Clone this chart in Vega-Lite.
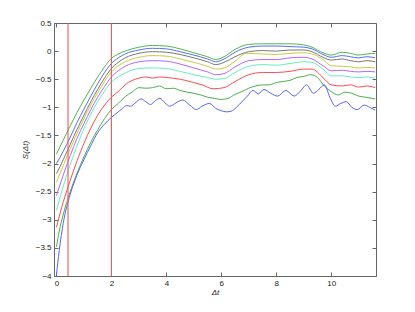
{
  "$schema": "https://vega.github.io/schema/vega-lite/v6.json",
  "width": 322,
  "height": 253,
  "autosize": {"type": "none"},
  "padding": {"left": 54, "top": 23, "right": 39, "bottom": 36},
  "config": {
    "view": {"stroke": null},
    "font": "Liberation Sans",
    "axis": {
      "grid": false,
      "domainColor": "#666666",
      "domainWidth": 1,
      "tickColor": "#666666",
      "tickSize": -4,
      "labelFontSize": 8,
      "labelColor": "#222222",
      "titleFontSize": 8,
      "titleFontWeight": "normal",
      "titleColor": "#222222"
    }
  },
  "datasets": {
    "vlines": [{"v": 0.42}, {"v": 2}],
    "curves": [
      {"s":"g1","x":0,"y":-1.83},{"s":"g1","x":0.25,"y":-1.58},{"s":"g1","x":0.5,"y":-1.33},{"s":"g1","x":0.75,"y":-1.09},{"s":"g1","x":1,"y":-0.87},{"s":"g1","x":1.25,"y":-0.66},{"s":"g1","x":1.5,"y":-0.46},{"s":"g1","x":1.75,"y":-0.28},{"s":"g1","x":2,"y":-0.13},{"s":"g1","x":2.25,"y":-0.05},{"s":"g1","x":2.5,"y":0.0},{"s":"g1","x":3,"y":0.07},{"s":"g1","x":3.5,"y":0.1},{"s":"g1","x":4,"y":0.09},{"s":"g1","x":4.5,"y":0.04},{"s":"g1","x":5,"y":-0.03},{"s":"g1","x":5.5,"y":-0.1},{"s":"g1","x":5.8,"y":-0.15},{"s":"g1","x":6.1,"y":-0.1},{"s":"g1","x":6.5,"y":0.03},{"s":"g1","x":7,"y":0.12},{"s":"g1","x":7.5,"y":0.13},{"s":"g1","x":8,"y":0.13},{"s":"g1","x":8.5,"y":0.13},{"s":"g1","x":9,"y":0.11},{"s":"g1","x":9.3,"y":0.07},{"s":"g1","x":9.7,"y":-0.03},{"s":"g1","x":10,"y":-0.07},{"s":"g1","x":10.4,"y":-0.02},{"s":"g1","x":10.7,"y":-0.04},{"s":"g1","x":11,"y":-0.07},{"s":"g1","x":11.3,"y":-0.05},{"s":"g1","x":11.6,"y":-0.04},
      {"s":"b1","x":0,"y":-2.0},{"s":"b1","x":0.25,"y":-1.78},{"s":"b1","x":0.5,"y":-1.53},{"s":"b1","x":0.75,"y":-1.27},{"s":"b1","x":1,"y":-1.03},{"s":"b1","x":1.25,"y":-0.8},{"s":"b1","x":1.5,"y":-0.58},{"s":"b1","x":1.75,"y":-0.38},{"s":"b1","x":2,"y":-0.22},{"s":"b1","x":2.25,"y":-0.12},{"s":"b1","x":2.5,"y":-0.05},{"s":"b1","x":3,"y":0.02},{"s":"b1","x":3.5,"y":0.05},{"s":"b1","x":4,"y":0.04},{"s":"b1","x":4.5,"y":-0.01},{"s":"b1","x":5,"y":-0.07},{"s":"b1","x":5.5,"y":-0.14},{"s":"b1","x":5.8,"y":-0.19},{"s":"b1","x":6.1,"y":-0.14},{"s":"b1","x":6.5,"y":-0.02},{"s":"b1","x":7,"y":0.07},{"s":"b1","x":7.5,"y":0.09},{"s":"b1","x":8,"y":0.09},{"s":"b1","x":8.5,"y":0.08},{"s":"b1","x":9,"y":0.07},{"s":"b1","x":9.3,"y":0.04},{"s":"b1","x":9.7,"y":-0.06},{"s":"b1","x":10,"y":-0.11},{"s":"b1","x":10.4,"y":-0.08},{"s":"b1","x":10.7,"y":-0.1},{"s":"b1","x":11,"y":-0.12},{"s":"b1","x":11.3,"y":-0.1},{"s":"b1","x":11.6,"y":-0.12},
      {"s":"k","x":0,"y":-2.18},{"s":"k","x":0.25,"y":-1.93},{"s":"k","x":0.5,"y":-1.66},{"s":"k","x":0.75,"y":-1.39},{"s":"k","x":1,"y":-1.14},{"s":"k","x":1.25,"y":-0.9},{"s":"k","x":1.5,"y":-0.68},{"s":"k","x":1.75,"y":-0.48},{"s":"k","x":2,"y":-0.31},{"s":"k","x":2.25,"y":-0.2},{"s":"k","x":2.5,"y":-0.12},{"s":"k","x":3,"y":-0.04},{"s":"k","x":3.5,"y":-0.01},{"s":"k","x":4,"y":-0.02},{"s":"k","x":4.5,"y":-0.06},{"s":"k","x":5,"y":-0.12},{"s":"k","x":5.5,"y":-0.19},{"s":"k","x":5.8,"y":-0.24},{"s":"k","x":6.1,"y":-0.2},{"s":"k","x":6.5,"y":-0.1},{"s":"k","x":7,"y":-0.01},{"s":"k","x":7.5,"y":0.01},{"s":"k","x":8,"y":0.0},{"s":"k","x":8.5,"y":0.02},{"s":"k","x":9,"y":0.02},{"s":"k","x":9.3,"y":-0.01},{"s":"k","x":9.7,"y":-0.11},{"s":"k","x":10,"y":-0.16},{"s":"k","x":10.4,"y":-0.14},{"s":"k","x":10.7,"y":-0.17},{"s":"k","x":11,"y":-0.19},{"s":"k","x":11.3,"y":-0.17},{"s":"k","x":11.6,"y":-0.19},
      {"s":"y","x":0,"y":-2.33},{"s":"y","x":0.25,"y":-2.03},{"s":"y","x":0.5,"y":-1.74},{"s":"y","x":0.75,"y":-1.46},{"s":"y","x":1,"y":-1.2},{"s":"y","x":1.25,"y":-0.96},{"s":"y","x":1.5,"y":-0.74},{"s":"y","x":1.75,"y":-0.54},{"s":"y","x":2,"y":-0.37},{"s":"y","x":2.25,"y":-0.26},{"s":"y","x":2.5,"y":-0.19},{"s":"y","x":3,"y":-0.11},{"s":"y","x":3.5,"y":-0.08},{"s":"y","x":4,"y":-0.09},{"s":"y","x":4.5,"y":-0.14},{"s":"y","x":5,"y":-0.2},{"s":"y","x":5.5,"y":-0.27},{"s":"y","x":5.8,"y":-0.32},{"s":"y","x":6.1,"y":-0.3},{"s":"y","x":6.5,"y":-0.18},{"s":"y","x":6.9,"y":-0.04},{"s":"y","x":7.5,"y":-0.05},{"s":"y","x":8,"y":-0.06},{"s":"y","x":8.5,"y":-0.04},{"s":"y","x":9,"y":-0.03},{"s":"y","x":9.3,"y":-0.05},{"s":"y","x":9.7,"y":-0.15},{"s":"y","x":10,"y":-0.26},{"s":"y","x":10.4,"y":-0.27},{"s":"y","x":10.7,"y":-0.28},{"s":"y","x":11,"y":-0.3},{"s":"y","x":11.3,"y":-0.29},{"s":"y","x":11.6,"y":-0.3},
      {"s":"m","x":0,"y":-2.57},{"s":"m","x":0.25,"y":-2.2},{"s":"m","x":0.5,"y":-1.86},{"s":"m","x":0.75,"y":-1.55},{"s":"m","x":1,"y":-1.29},{"s":"m","x":1.25,"y":-1.04},{"s":"m","x":1.5,"y":-0.82},{"s":"m","x":1.75,"y":-0.63},{"s":"m","x":2,"y":-0.46},{"s":"m","x":2.25,"y":-0.35},{"s":"m","x":2.5,"y":-0.27},{"s":"m","x":3,"y":-0.19},{"s":"m","x":3.5,"y":-0.17},{"s":"m","x":4,"y":-0.18},{"s":"m","x":4.5,"y":-0.23},{"s":"m","x":5,"y":-0.3},{"s":"m","x":5.5,"y":-0.37},{"s":"m","x":5.8,"y":-0.42},{"s":"m","x":6.1,"y":-0.4},{"s":"m","x":6.5,"y":-0.28},{"s":"m","x":7,"y":-0.17},{"s":"m","x":7.5,"y":-0.15},{"s":"m","x":8,"y":-0.15},{"s":"m","x":8.5,"y":-0.12},{"s":"m","x":9,"y":-0.11},{"s":"m","x":9.3,"y":-0.14},{"s":"m","x":9.7,"y":-0.26},{"s":"m","x":10,"y":-0.35},{"s":"m","x":10.4,"y":-0.34},{"s":"m","x":10.7,"y":-0.36},{"s":"m","x":11,"y":-0.37},{"s":"m","x":11.3,"y":-0.36},{"s":"m","x":11.6,"y":-0.37},
      {"s":"c","x":0,"y":-2.83},{"s":"c","x":0.25,"y":-2.4},{"s":"c","x":0.5,"y":-2.02},{"s":"c","x":0.75,"y":-1.68},{"s":"c","x":1,"y":-1.38},{"s":"c","x":1.25,"y":-1.12},{"s":"c","x":1.5,"y":-0.9},{"s":"c","x":1.75,"y":-0.71},{"s":"c","x":2,"y":-0.55},{"s":"c","x":2.25,"y":-0.46},{"s":"c","x":2.5,"y":-0.39},{"s":"c","x":3,"y":-0.31},{"s":"c","x":3.5,"y":-0.3},{"s":"c","x":4,"y":-0.31},{"s":"c","x":4.5,"y":-0.36},{"s":"c","x":5,"y":-0.42},{"s":"c","x":5.5,"y":-0.47},{"s":"c","x":5.8,"y":-0.5},{"s":"c","x":6.1,"y":-0.49},{"s":"c","x":6.5,"y":-0.38},{"s":"c","x":7,"y":-0.27},{"s":"c","x":7.5,"y":-0.24},{"s":"c","x":8,"y":-0.25},{"s":"c","x":8.5,"y":-0.22},{"s":"c","x":9,"y":-0.19},{"s":"c","x":9.3,"y":-0.2},{"s":"c","x":9.7,"y":-0.32},{"s":"c","x":10,"y":-0.44},{"s":"c","x":10.4,"y":-0.44},{"s":"c","x":10.7,"y":-0.46},{"s":"c","x":11,"y":-0.47},{"s":"c","x":11.3,"y":-0.46},{"s":"c","x":11.6,"y":-0.48},
      {"s":"r","x":0,"y":-3.13},{"s":"r","x":0.25,"y":-2.68},{"s":"r","x":0.5,"y":-2.3},{"s":"r","x":0.75,"y":-1.95},{"s":"r","x":1,"y":-1.64},{"s":"r","x":1.25,"y":-1.37},{"s":"r","x":1.5,"y":-1.14},{"s":"r","x":1.75,"y":-0.96},{"s":"r","x":2,"y":-0.82},{"s":"r","x":2.25,"y":-0.72},{"s":"r","x":2.5,"y":-0.6},{"s":"r","x":3,"y":-0.48},{"s":"r","x":3.25,"y":-0.46},{"s":"r","x":3.5,"y":-0.48},{"s":"r","x":3.75,"y":-0.46},{"s":"r","x":4,"y":-0.47},{"s":"r","x":4.5,"y":-0.5},{"s":"r","x":5,"y":-0.56},{"s":"r","x":5.3,"y":-0.6},{"s":"r","x":5.7,"y":-0.67},{"s":"r","x":6.1,"y":-0.65},{"s":"r","x":6.5,"y":-0.54},{"s":"r","x":7,"y":-0.42},{"s":"r","x":7.5,"y":-0.38},{"s":"r","x":8,"y":-0.38},{"s":"r","x":8.5,"y":-0.36},{"s":"r","x":9,"y":-0.32},{"s":"r","x":9.3,"y":-0.32},{"s":"r","x":9.7,"y":-0.47},{"s":"r","x":10,"y":-0.6},{"s":"r","x":10.4,"y":-0.62},{"s":"r","x":10.7,"y":-0.6},{"s":"r","x":11,"y":-0.64},{"s":"r","x":11.3,"y":-0.62},{"s":"r","x":11.6,"y":-0.65},
      {"s":"g2","x":0,"y":-3.48},{"s":"g2","x":0.1,"y":-3.2},{"s":"g2","x":0.25,"y":-2.9},{"s":"g2","x":0.5,"y":-2.5},{"s":"g2","x":0.75,"y":-2.17},{"s":"g2","x":1,"y":-1.88},{"s":"g2","x":1.25,"y":-1.62},{"s":"g2","x":1.5,"y":-1.4},{"s":"g2","x":1.75,"y":-1.2},{"s":"g2","x":2,"y":-1.04},{"s":"g2","x":2.25,"y":-0.93},{"s":"g2","x":2.5,"y":-0.81},{"s":"g2","x":2.75,"y":-0.73},{"s":"g2","x":3,"y":-0.65},{"s":"g2","x":3.25,"y":-0.66},{"s":"g2","x":3.5,"y":-0.65},{"s":"g2","x":3.75,"y":-0.62},{"s":"g2","x":4,"y":-0.67},{"s":"g2","x":4.25,"y":-0.66},{"s":"g2","x":4.5,"y":-0.7},{"s":"g2","x":4.75,"y":-0.73},{"s":"g2","x":5,"y":-0.75},{"s":"g2","x":5.25,"y":-0.78},{"s":"g2","x":5.5,"y":-0.82},{"s":"g2","x":5.75,"y":-0.84},{"s":"g2","x":6,"y":-0.86},{"s":"g2","x":6.25,"y":-0.84},{"s":"g2","x":6.5,"y":-0.77},{"s":"g2","x":6.75,"y":-0.72},{"s":"g2","x":7,"y":-0.66},{"s":"g2","x":7.25,"y":-0.62},{"s":"g2","x":7.5,"y":-0.6},{"s":"g2","x":7.75,"y":-0.6},{"s":"g2","x":8,"y":-0.56},{"s":"g2","x":8.25,"y":-0.54},{"s":"g2","x":8.5,"y":-0.52},{"s":"g2","x":8.75,"y":-0.47},{"s":"g2","x":9,"y":-0.45},{"s":"g2","x":9.25,"y":-0.42},{"s":"g2","x":9.5,"y":-0.47},{"s":"g2","x":9.75,"y":-0.62},{"s":"g2","x":10,"y":-0.72},{"s":"g2","x":10.25,"y":-0.78},{"s":"g2","x":10.5,"y":-0.73},{"s":"g2","x":10.75,"y":-0.75},{"s":"g2","x":11,"y":-0.8},{"s":"g2","x":11.25,"y":-0.82},{"s":"g2","x":11.6,"y":-0.85},
      {"s":"b2","x":0,"y":-3.98},{"s":"b2","x":0.1,"y":-3.55},{"s":"b2","x":0.25,"y":-3.05},{"s":"b2","x":0.5,"y":-2.55},{"s":"b2","x":0.75,"y":-2.2},{"s":"b2","x":1,"y":-1.93},{"s":"b2","x":1.25,"y":-1.68},{"s":"b2","x":1.5,"y":-1.45},{"s":"b2","x":1.75,"y":-1.3},{"s":"b2","x":2,"y":-1.18},{"s":"b2","x":2.2,"y":-1.1},{"s":"b2","x":2.4,"y":-1.02},{"s":"b2","x":2.55,"y":-0.97},{"s":"b2","x":2.7,"y":-0.98},{"s":"b2","x":2.85,"y":-0.93},{"s":"b2","x":3.08,"y":-0.85},{"s":"b2","x":3.25,"y":-0.9},{"s":"b2","x":3.42,"y":-0.95},{"s":"b2","x":3.6,"y":-0.88},{"s":"b2","x":3.76,"y":-0.84},{"s":"b2","x":3.95,"y":-0.92},{"s":"b2","x":4.12,"y":-0.98},{"s":"b2","x":4.35,"y":-0.92},{"s":"b2","x":4.6,"y":-0.87},{"s":"b2","x":4.85,"y":-0.96},{"s":"b2","x":5.09,"y":-1.04},{"s":"b2","x":5.3,"y":-0.98},{"s":"b2","x":5.57,"y":-0.93},{"s":"b2","x":5.8,"y":-1.02},{"s":"b2","x":6.0,"y":-1.06},{"s":"b2","x":6.18,"y":-1.08},{"s":"b2","x":6.35,"y":-1.07},{"s":"b2","x":6.55,"y":-1.0},{"s":"b2","x":6.75,"y":-0.9},{"s":"b2","x":6.95,"y":-0.8},{"s":"b2","x":7.15,"y":-0.7},{"s":"b2","x":7.35,"y":-0.76},{"s":"b2","x":7.55,"y":-0.68},{"s":"b2","x":7.8,"y":-0.75},{"s":"b2","x":8.05,"y":-0.8},{"s":"b2","x":8.35,"y":-0.7},{"s":"b2","x":8.65,"y":-0.8},{"s":"b2","x":8.9,"y":-0.7},{"s":"b2","x":9.1,"y":-0.6},{"s":"b2","x":9.35,"y":-0.75},{"s":"b2","x":9.55,"y":-0.68},{"s":"b2","x":9.75,"y":-0.6},{"s":"b2","x":9.95,"y":-0.82},{"s":"b2","x":10.15,"y":-0.98},{"s":"b2","x":10.35,"y":-0.93},{"s":"b2","x":10.55,"y":-0.9},{"s":"b2","x":10.75,"y":-1.0},{"s":"b2","x":10.95,"y":-1.04},{"s":"b2","x":11.2,"y":-0.96},{"s":"b2","x":11.4,"y":-1.0},{"s":"b2","x":11.6,"y":-1.05}
    ]
  },
  "layer": [
    {
      "data": {"name": "curves"},
      "mark": {"type": "line", "strokeWidth": 1, "interpolate": "monotone", "clip": true},
      "encoding": {
        "x": {"field": "x", "type": "quantitative", "scale": {"domain": [-0.09, 11.63], "nice": false, "zero": false},
              "axis": {"orient": "bottom", "values": [0, 2, 4, 6, 8, 10], "title": "Δt", "titleFontStyle": "italic", "labelPadding": 7, "titlePadding": 1}},
        "y": {"field": "y", "type": "quantitative", "scale": {"domain": [-4, 0.5], "nice": false, "zero": false},
              "axis": {"orient": "left", "values": [-4, -3.5, -3, -2.5, -2, -1.5, -1, -0.5, 0, 0.5], "format": "~g", "title": "S(Δt)", "titleFontStyle": "italic", "labelPadding": 7, "titlePadding": 6}},
        "color": {"field": "s", "type": "nominal", "legend": null,
                  "scale": {"domain": ["g1","b1","k","y","m","c","r","g2","b2"],
                            "range": ["#4fb84f","#5c6cf5","#777777","#c8cc44","#b266ff","#66eec0","#ff4d4d","#4caf4c","#5a64f0"]}}
      }
    },
    {
      "data": {"name": "vlines"},
      "mark": {"type": "rule", "color": "#f05a5a", "strokeWidth": 1.1},
      "encoding": {"x": {"field": "v", "type": "quantitative", "axis": null}}
    },
    {
      "data": {"name": "curves"},
      "mark": {"type": "point", "opacity": 0},
      "encoding": {
        "x": {"field": "x", "type": "quantitative", "axis": {"orient": "top", "values": [0, 2, 4, 6, 8, 10], "labels": false, "title": null}},
        "y": {"field": "y", "type": "quantitative", "axis": {"orient": "right", "values": [-4, -3.5, -3, -2.5, -2, -1.5, -1, -0.5, 0, 0.5], "labels": false, "title": null}}
      }
    }
  ],
  "resolve": {"axis": {"x": "independent", "y": "independent"}}
}
